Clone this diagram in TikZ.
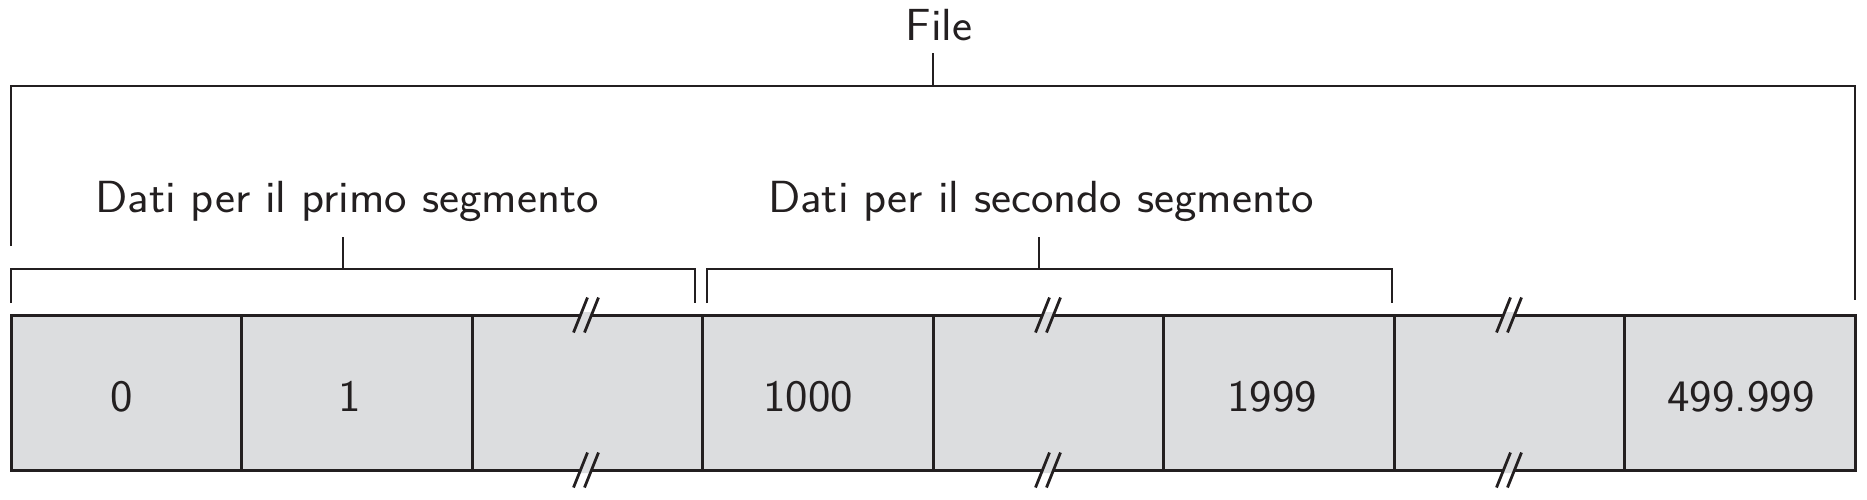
\documentclass[tikz,border=0pt]{standalone}
\usepackage{fontspec}
\setsansfont{Latin Modern Sans}[FakeStretch=1.06]
\definecolor{ink}{HTML}{231F20}
\definecolor{cellgray}{HTML}{DCDDDF}
\begin{document}
\begin{tikzpicture}[x=0.5pt,y=-0.5pt,
  cell/.style={draw=ink,fill=cellgray,line width=1.5pt,rectangle,
    minimum width=115.25pt,minimum height=77.5pt,inner sep=0pt,outer sep=0pt},
  lbl/.style={text=ink,font=\sffamily\fontsize{22.5}{27}\selectfont,anchor=base,inner sep=0pt},
  brk/.style={draw=ink,line width=1pt},
  slash/.style={draw=ink,line width=1.4pt}]
\useasboundingbox (0,0) rectangle (1867,499);
% cells
\foreach \i in {1,...,8} {
  \node[cell] (c\i) at ({11+230.5*(\i-0.5)},392.5) {};
}
% numbers
\node[lbl] (n0) at (122,411) {0};
\node[lbl] (n1) at (350,411) {1};
\node[lbl] (n1000) at (808,411) {1000};
\node[lbl] (n1999) at (1272,411) {1999};
\node[lbl] (nlast) at (1741,411) {499.999};
% break marks
\foreach \c in {586,1048,1509} {
  \foreach \yy in {315,470} {
    \fill[cellgray] (\c-4.3,\yy-3) -- (\c+6.7,\yy-3) -- (\c+4.3,\yy+3) -- (\c-6.7,\yy+3) -- cycle;
    \draw[slash] (\c+1.5,\yy-17.5) -- (\c-12.5,\yy+17.5);
    \draw[slash] (\c+12.5,\yy-17.5) -- (\c-1.5,\yy+17.5);
  }
}
% File bracket
\coordinate (fl) at (11,246);
\coordinate (fr) at (1855,300);
\coordinate (ft) at (933,53);
\draw[brk] (fl) |- (933,86) -| (fr);
\draw[brk] (933,86) -- (ft);
\node[lbl] (file) at (939,40) {File};
% first segment bracket
\coordinate (al) at (11,303);
\coordinate (ar) at (695,303);
\coordinate (at) at (343,237);
\draw[brk] (al) |- (343,269) -| (ar);
\draw[brk] (343,269) -- (at);
\node[lbl] (seg1) at (347,212) {Dati per il primo segmento};
% second segment bracket
\coordinate (bl) at (707,303);
\coordinate (br) at (1392,303);
\coordinate (bt) at (1039,237);
\draw[brk] (bl) |- (1039,269) -| (br);
\draw[brk] (1039,269) -- (bt);
\node[lbl] (seg2) at (1041,212) {Dati per il secondo segmento};
\end{tikzpicture}
\end{document}
